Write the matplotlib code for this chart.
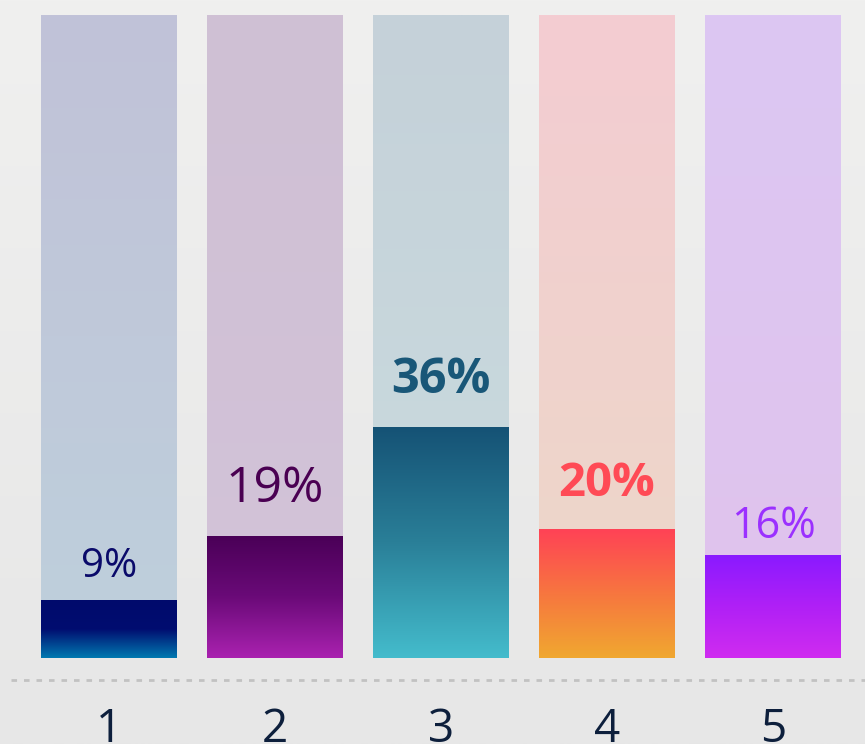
import numpy as np
import matplotlib
matplotlib.use("Agg")
import matplotlib.pyplot as plt
from matplotlib.colors import LinearSegmentedColormap

plt.rcParams['font.family'] = ['Open Sans', 'DejaVu Sans']

# data
categories = ['1', '2', '3', '4', '5']
values = [9, 19, 36, 20, 16]
labels = ['9%', '19%', '36%', '20%', '16%']
total = 100

# colours: gradients listed top -> bottom
fg_grad = [['#000a6c', '#000d70', '#0079b0'],
           ['#4a0057', '#6a0a78', '#aa22b0'],
           ['#155275', '#2a7f98', '#44bccc'],
           ['#ff4256', '#f7763f', '#f0a830'],
           ['#8a1aff', '#b020f6', '#d02cf0']]
bg_grad = [['#c1c2d8', '#bed0dc'],
           ['#cfc0d4', '#d3c3d9'],
           ['#c5d1d9', '#cadcdf'],
           ['#f4ccd2', '#ecd8c8'],
           ['#dcc7f3', '#e0c3ec']]
lab_color = ['#0a0a6a', '#4a0052', '#195778', '#ff4a55', '#9b30ff']
lab_size = [29, 36, 35, 34, 31]
lab_weight = ['normal', 'normal', 'bold', 'bold', 'normal']
lab_gap = [17, 24, 24, 24, 12]   # points above bar top

fig = plt.figure(figsize=(8.65, 7.44), dpi=100)
fig.patch.set_facecolor('#ebebea')

# soft background
bgax = fig.add_axes([0, 0, 1, 1], zorder=-1)
bgax.imshow(np.linspace(0, 1, 256).reshape(-1, 1),
            cmap=LinearSegmentedColormap.from_list('bg', ['#f0f0ef', '#e7e7e7']),
            aspect='auto', extent=(0, 1, 0, 1))
bgax.axis('off')

ax = fig.add_axes([0, 0, 1, 1])
ax.patch.set_alpha(0)
x = np.arange(len(categories))
w = 136 / 166

grad = np.linspace(0, 1, 256).reshape(-1, 1)


def grad_bars(heights, colours, z):
    bars = ax.bar(x, heights, width=w, color='none', zorder=z)
    for b, cols in zip(bars, colours):
        cm = LinearSegmentedColormap.from_list('g', cols)
        x0, y0 = b.get_x(), b.get_y()
        # row 0 (first colour) goes to the top of the bar
        im = ax.imshow(grad, cmap=cm, aspect='auto', zorder=z,
                       extent=(x0, x0 + b.get_width(), y0, y0 + b.get_height()))
        im.set_clip_path(b)
    return bars


grad_bars([total] * len(values), bg_grad, 1)
grad_bars(values, fg_grad, 2)
ax.set_xlim(-109 / 166, (865 - 109) / 166)
ax.set_ylim(-86 / 6.43, 100 + 15 / 6.43)

for i, v in enumerate(values):
    ax.annotate(labels[i], (x[i], v), xytext=(0, lab_gap[i]), textcoords='offset points',
                ha='center', va='baseline', fontsize=lab_size[i],
                fontweight=lab_weight[i], color=lab_color[i], zorder=3)

# dotted baseline
ax.plot([-98 / 166, (865 - 109) / 166], [-22 / 6.43] * 2, color='#c2c2c2', lw=2,
        dashes=(2, 2.5), solid_capstyle='butt', zorder=2, clip_on=False)

for i, c in enumerate(categories):
    ax.text(x[i], -84 / 6.43, c, ha='center', va='baseline', fontsize=33,
            color='#0d1f3c', clip_on=False)

ax.axis('off')
fig.savefig('out.png', dpi=100, facecolor=fig.get_facecolor())
